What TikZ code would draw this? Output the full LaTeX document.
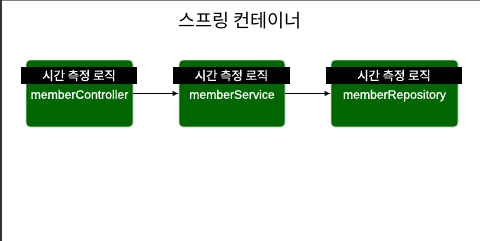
\documentclass[tikz,border=0pt]{standalone}
\usepackage{fontspec}
\setmainfont{Liberation Sans}
\newfontfamily\beanfont[FakeBold=0.8]{Liberation Sans}
\newfontfamily\krfont{Noto Sans CJK KR}
\newfontfamily\krtagfont[FakeBold=0.7]{Noto Sans CJK KR}
\usepackage{xcolor}
\usetikzlibrary{arrows,arrows.meta,positioning,calc}

\definecolor{beangreen}{RGB}{0,102,0}

\begin{document}
\begin{tikzpicture}[
  x=1pt, y=1pt,
  bean/.style={draw=white!80!beangreen, fill=beangreen, rounded corners=4pt, line width=0.6pt, minimum height=67pt, text=white, font=\beanfont\fontsize{12.2}{14}\selectfont, inner sep=0pt, text height=13pt, text depth=2.5pt},
  tag/.style={fill=black, text=white, minimum height=17pt, inner sep=0pt, font=\krtagfont\fontsize{12.3}{14}\selectfont},
  arrow/.style={-{Latex[length=6pt,width=5.5pt]}, line width=1.5pt},
]
\useasboundingbox (0,0) rectangle (480,-241);

% container edges
\draw[gray, line width=1.2pt] (0,-0.6) -- (480,-0.6);
\draw[black!80, line width=1.6pt] (0.8,0) -- (0.8,-241);

\node[font=\krfont\fontsize{18.5}{20}\selectfont] (title) at (240,-20.5) {스프링 컨테이너};

\node[bean, minimum width=107pt] (ctrl) at (79.5,-93.5) {memberController};
\node[bean, minimum width=106pt] (svc) at (232,-93.5) {memberService};
\node[bean, minimum width=127pt] (repo) at (394.5,-93.5) {memberRepository};

\node[tag, minimum width=116pt] (ctrltag) at (79,-75.5) {시간 측정 로직};
\node[tag, minimum width=117pt] (svctag) at (231.5,-75.5) {시간 측정 로직};
\node[tag, minimum width=136pt] (repotag) at (394,-75.5) {시간 측정 로직};

\draw[arrow] (ctrl) -- (svc);
\draw[arrow] (svc) -- (repo);

\end{tikzpicture}
\end{document}
